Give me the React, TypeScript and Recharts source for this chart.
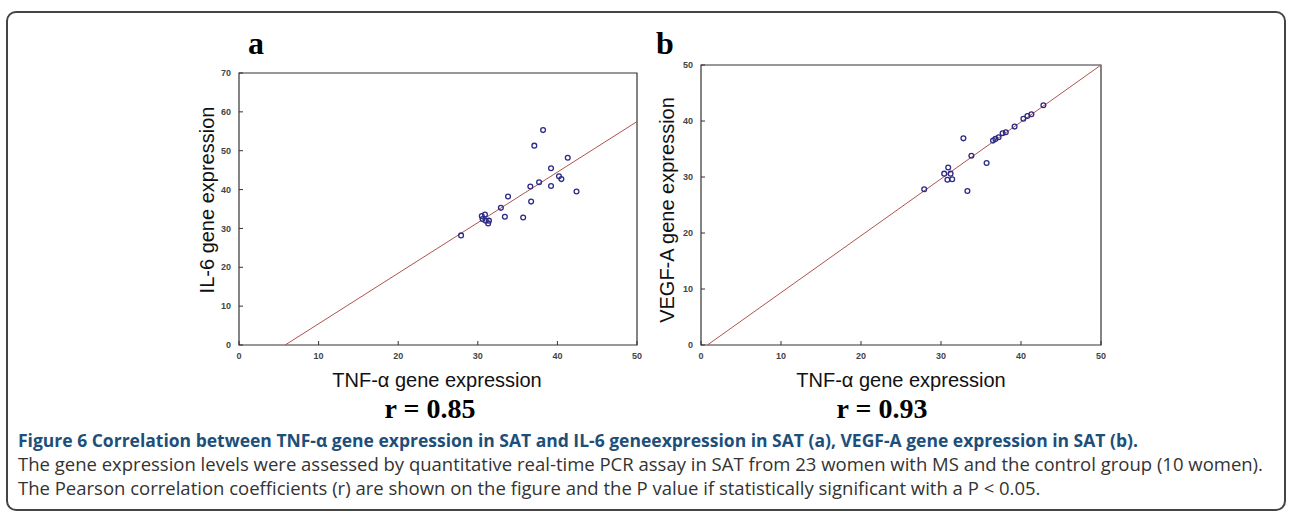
import { ReferenceArea, Scatter, ScatterChart, XAxis, YAxis } from 'recharts';

// panel a: TNF-α vs IL-6
const tnfA = [38.2, 37.1, 41.3, 39.2, 40.2, 40.5, 39.2, 36.6, 37.7, 33.8, 36.7, 32.9, 30.5, 30.9, 30.6, 31.0, 31.4, 31.3, 33.4, 35.7, 27.9, 42.4];
const il6 = [55.3, 51.3, 48.2, 45.5, 43.4, 42.7, 40.9, 40.8, 41.9, 38.2, 36.9, 35.3, 33.2, 33.6, 32.4, 32.0, 32.0, 31.3, 33.0, 32.8, 28.2, 39.5];

// panel b: TNF-α vs VEGF-A
const tnfB = [32.8, 33.8, 35.7, 30.9, 30.4, 31.2, 30.8, 31.4, 27.9, 33.3, 36.5, 36.8, 37.2, 37.7, 38.1, 39.2, 40.3, 40.8, 41.3, 42.8];
const vegfA = [36.9, 33.8, 32.5, 31.7, 30.6, 30.6, 29.5, 29.6, 27.8, 27.5, 36.5, 36.8, 37.1, 37.8, 38.0, 39.0, 40.4, 40.9, 41.2, 42.8];

// fitted lines (end points)
const fitAx = [5.8, 50];
const fitAy = [0, 57.5];
const fitBx = [0.8, 50];
const fitBy = [0, 50];

const xTicks = [0, 10, 20, 30, 40, 50];
const yTicksA = [0, 10, 20, 30, 40, 50, 60, 70];
const yTicksB = [0, 10, 20, 30, 40, 50];

const toPts = (xs: number[], ys: number[]) => xs.map((x, i) => ({ x, y: ys[i] }));

const tickStyle = { fontSize: 9, fill: '#444', fontFamily: 'Liberation Sans, Arial', fontWeight: 700 };
const AXIS = '#333';

function Panel({
  left, width, top, bottom, yMax, yTicks, pts, fit,
}: {
  left: number; width: number; top: number; bottom: number; yMax: number; yTicks: number[];
  pts: { x: number; y: number }[]; fit: { x: number; y: number }[];
}) {
  const W = left + width + 10;
  const H = bottom + 40;
  return (
    <div style={{ position: 'absolute', left: 0, top: 0 }}>
      <ScatterChart width={W} height={H} margin={{ top, left: left - 30, right: 10, bottom: H - bottom - 30 }}>
        <XAxis
          type="number" dataKey="x" domain={[0, 50]} ticks={xTicks} height={30}
          allowDataOverflow tick={tickStyle} tickSize={-4} tickMargin={12}
          axisLine={false} tickLine={{ stroke: AXIS }} interval={0}
        />
        <YAxis
          type="number" dataKey="y" domain={[0, yMax]} ticks={yTicks} width={30}
          allowDataOverflow tick={tickStyle} tickSize={-4} tickMargin={12}
          axisLine={false} tickLine={{ stroke: AXIS }} interval={0}
        />
        <ReferenceArea x1={0} x2={50} y1={0} y2={yMax} fill="none" stroke={AXIS} strokeWidth={1.2} />
        <Scatter
          data={fit} line={{ stroke: '#b0524f', strokeWidth: 1 }} shape={() => <g />}
          isAnimationActive={false}
        />
        <Scatter
          data={pts} fill="none" stroke="#2b2b85" strokeWidth={1.3}
          shape={(p: any) => <circle cx={p.cx} cy={p.cy} r={2.4} fill="none" stroke="#2b2b85" strokeWidth={1.3} />}
          isAnimationActive={false}
        />
      </ScatterChart>
    </div>
  );
}

const serif = 'Liberation Serif, Times New Roman, serif';
const sans = 'Liberation Sans, Arial, sans-serif';

export default function App() {
  return (
    <div style={{ position: 'absolute', left: 0, top: 0, width: 1293, height: 517, background: '#fff', overflow: 'hidden' }}>
      <div
        style={{
          position: 'absolute', left: 6, top: 11, width: 1280, height: 500,
          border: '2px solid #444', borderRadius: 10, boxSizing: 'border-box',
        }}
      />
      <Panel left={239} width={398} top={73} bottom={345} yMax={70} yTicks={yTicksA} pts={toPts(tnfA, il6)} fit={toPts(fitAx, fitAy)} />
      <Panel left={701} width={400} top={65} bottom={345} yMax={50} yTicks={yTicksB} pts={toPts(tnfB, vegfA)} fit={toPts(fitBx, fitBy)} />
      <svg width={1293} height={517} style={{ position: 'absolute', left: 0, top: 0, pointerEvents: 'none' }}>
        <text x={248} y={54} fontFamily={serif} fontWeight={700} fontSize={32}>a</text>
        <text x={656} y={54} fontFamily={serif} fontWeight={700} fontSize={32}>b</text>
        <text x={437} y={387} textAnchor="middle" fontFamily={sans} fontSize={20} fill="#111">TNF-α gene expression</text>
        <text x={901} y={387} textAnchor="middle" fontFamily={sans} fontSize={20} fill="#111">TNF-α gene expression</text>
        <text transform="translate(214,200) rotate(-90)" textAnchor="middle" fontFamily={sans} fontSize={20} fill="#111">IL-6 gene expression</text>
        <text transform="translate(674,210) rotate(-90)" textAnchor="middle" fontFamily={sans} fontSize={20} fill="#111">VEGF-A gene expression</text>
        <text x={430} y={418} textAnchor="middle" fontFamily={serif} fontWeight={700} fontSize={28}>r = 0.85</text>
        <text x={882} y={418} textAnchor="middle" fontFamily={serif} fontWeight={700} fontSize={28}>r = 0.93</text>
      </svg>
      <div style={{ position: 'absolute', left: 18, top: 428, width: 1270, fontFamily: 'Open Sans, sans-serif', lineHeight: '24px', color: '#333', whiteSpace: 'nowrap' }}>
        <div style={{ fontWeight: 700, color: '#1d4f7a', fontSize: 17.5 }}>
          Figure 6 Correlation between TNF-α gene expression in SAT and IL-6 geneexpression in SAT (a), VEGF-A gene expression in SAT (b).
        </div>
        <div style={{ fontSize: 18.5 }}>The gene expression levels were assessed by quantitative real-time PCR assay in SAT from 23 women with MS and the control group (10 women).</div>
        <div style={{ fontSize: 18.5 }}>The Pearson correlation coefficients (r) are shown on the figure and the P value if statistically significant with a P &lt; 0.05.</div>
      </div>
    </div>
  );
}
